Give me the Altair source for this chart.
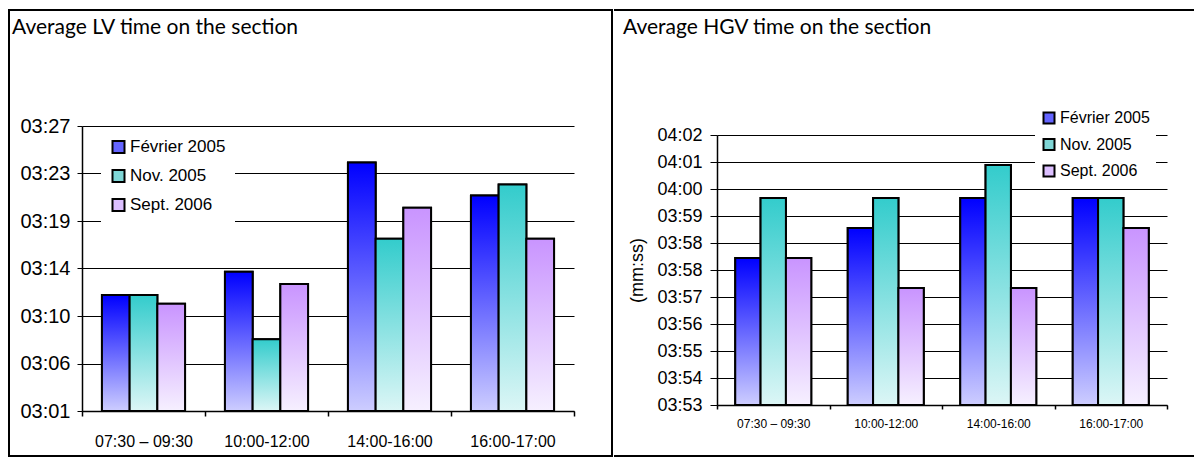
import altair as alt
import pandas as pd

# ---------------- data ----------------
categories = ["07:30 – 09:30", "10:00-12:00", "14:00-16:00", "16:00-17:00"]
series = ["Février 2005", "Nov. 2005", "Sept. 2006"]

# average LV time (seconds)
lv_fevrier = [191.9, 194.0, 203.9, 200.9]
lv_nov = [191.9, 187.9, 197.0, 201.9]
lv_sept = [191.1, 192.9, 199.8, 197.0]

# average HGV time (seconds)
hgv_fevrier = [237.9, 238.9, 239.9, 239.9]
hgv_nov = [239.9, 239.9, 241.0, 239.9]
hgv_sept = [237.9, 236.9, 236.9, 238.9]

lv_ticks = [181.4, 185.7, 190.0, 194.3, 198.6, 202.9, 207.2]
lv_tick_labels = ["03:01", "03:06", "03:10", "03:14", "03:19", "03:23", "03:27"]
hgv_ticks = [233.0, 233.9, 234.8, 235.7, 236.6, 237.5, 238.4, 239.3, 240.2, 241.1, 242.0]
hgv_tick_labels = ["03:53", "03:54", "03:55", "03:56", "03:57", "03:58",
                   "03:58", "03:59", "04:00", "04:01", "04:02"]

lv_title = "Average LV time on the section"
hgv_title = "Average HGV time on the section"
hgv_y_title = "(mm:ss)"

# ---------------- styles ----------------
gradients = {
    "Février 2005": ("#0000ff", "#cdcdff"),
    "Nov. 2005": ("#33cccc", "#dcf6f6"),
    "Sept. 2006": ("#c994ff", "#f6f0ff"),
}
legend_colors = ["#6464ff", "#7fd6d6", "#dcbfff"]
FONT = "Liberation Sans"
TITLE_FONT = "Lato"


def label_expr(ticks, labels):
    expr = "''"
    for t, l in reversed(list(zip(ticks, labels))):
        expr = f"datum.value == {t} ? '{l}' : ({expr})"
    return expr


def build_df(vals):
    rows = []
    for i, c in enumerate(categories):
        for s, v in zip(series, vals):
            rows.append({"period": c, "series": s, "value": v[i]})
    return pd.DataFrame(rows)


def one_row(text=""):
    return pd.DataFrame({"t": [text]})


def panel(vals, ticks, tick_labels, title, y_title, g):
    df = build_df(vals)
    base = alt.Chart(df)
    x = alt.X(
        "period:N", sort=categories,
        scale=alt.Scale(paddingInner=0, paddingOuter=0),
        axis=alt.Axis(title=None, labelAngle=0, tickBand="extent", tickSize=g["xtick"],
                      tickColor="black", tickWidth=1.5, domainColor="black", domainWidth=1.5,
                      labelFont=FONT, labelFontSize=g["xlab"], labelColor="black",
                      labelPadding=g["xlabpad"], grid=False),
    )
    xo = alt.XOffset("series:N", sort=series,
                     scale=alt.Scale(domain=series, paddingOuter=0.72, paddingInner=0))
    yaxis = dict(values=ticks, labelExpr=label_expr(ticks, tick_labels), grid=True,
                 gridColor="black", gridWidth=1, tickSize=g["ytick"], tickColor="black",
                 domainColor="black", domainWidth=1.5, labelFont=FONT,
                 labelFontSize=g["ylab"], labelColor="black", labelPadding=g["ylabpad"])
    if y_title:
        yaxis.update(title=y_title, titleFont=FONT, titleFontSize=g["ytitle"],
                     titleFontWeight="normal", titleColor="black", titlePadding=g["ytitlepad"])
    else:
        yaxis.update(title=None)
    y = alt.Y("value:Q",
              scale=alt.Scale(domain=[ticks[0], ticks[-1]], zero=False, nice=False,
                              range=g["yrange"]),
              axis=alt.Axis(**yaxis))
    y2 = alt.Y2(datum=ticks[0])

    legend_layer = base.mark_bar(stroke="black", strokeWidth=2).encode(
        x=x, xOffset=xo, y=y, y2=y2,
        fill=alt.Fill("series:N", sort=series,
                      scale=alt.Scale(domain=series, range=legend_colors),
                      legend=alt.Legend(
                          title=None, orient="none", direction="vertical",
                          legendX=g["legX"], legendY=g["legY"], fillColor="white",
                          padding=g["legpad"], symbolType="square", symbolSize=g["symsize"],
                          symbolStrokeColor="black", symbolStrokeWidth=2, symbolOpacity=1,
                          labelFont=FONT, labelFontSize=g["legfont"], labelColor="black",
                          labelOffset=3, rowPadding=g["rowpad"])),
    )
    layers = [legend_layer]
    for s in series:
        top, bot = gradients[s]
        layers.append(
            base.transform_filter(alt.datum.series == s).mark_bar(
                fill=alt.Gradient(gradient="linear",
                                  stops=[alt.GradientStop(offset=0, color=top),
                                         alt.GradientStop(offset=1, color=bot)],
                                  x1=0, x2=0, y1=0, y2=1),
                stroke="black", strokeWidth=2,
            ).encode(x=x, xOffset=xo, y=y, y2=y2)
        )
    # title text
    layers.append(
        alt.Chart(one_row(title)).mark_text(
            align="left", baseline="alphabetic", font=TITLE_FONT,
            fontSize=g["titlesize"], color="black"
        ).encode(text="t:N", x=alt.value(g["titleX"]), y=alt.value(g["titleY"]))
    )
    # cell frame
    for fr in g["frames"]:
        if fr[0] == "rect":
            _, x1, x2, y1, y2_ = fr
            layers.append(
                alt.Chart(one_row()).mark_rect(fillOpacity=0, stroke="black", strokeWidth=2).encode(
                    x=alt.value(x1), x2=alt.value(x2), y=alt.value(y1), y2=alt.value(y2_))
            )
        else:
            _, x1, x2, yy = fr
            layers.append(
                alt.Chart(one_row()).mark_rule(color="black", strokeWidth=2, strokeCap="square").encode(
                    x=alt.value(x1), x2=alt.value(x2), y=alt.value(yy))
            )
    return alt.layer(*layers).properties(width=g["W"], height=g["H"])


# plot origins: left (82,134), right (716,134) in page pixels
left_geo = dict(W=492, H=276, yrange=[276, -9],
                xlab=16, xtick=5, xlabpad=17, ylab=20, ytick=5, ylabpad=7,
                legX=19, legY=-5.5, legpad=9, symsize=144, legfont=17, rowpad=8,
                titlesize=21, titleX=-70, titleY=-101,
                frames=[("rect", -73, 530, -125, 321)])
right_geo = dict(W=450, H=270, yrange=[270, 0],
                 xlab=12, xtick=4, xlabpad=9, ylab=18, ytick=7, ylabpad=8,
                 ytitle=18, ytitlepad=10,
                 legX=318, legY=-31, legpad=6, symsize=121, legfont=16, rowpad=6.5,
                 titlesize=21, titleX=-94, titleY=-101,
                 frames=[("rule", -102, 476, -125), ("rule", -102, 476, 321)])

left = panel([lv_fevrier, lv_nov, lv_sept], lv_ticks, lv_tick_labels, lv_title, None, left_geo)
right = panel([hgv_fevrier, hgv_nov, hgv_sept], hgv_ticks, hgv_tick_labels, hgv_title,
              hgv_y_title, right_geo)

chart = alt.hconcat(left, right, spacing=0).resolve_scale(
    x="independent", y="independent", xOffset="independent", fill="independent"
).resolve_legend(fill="independent").properties(
    padding=0, background="white"
).configure_view(stroke=None)

chart.save("out.html", embed_options={"renderer": "svg", "actions": False})
